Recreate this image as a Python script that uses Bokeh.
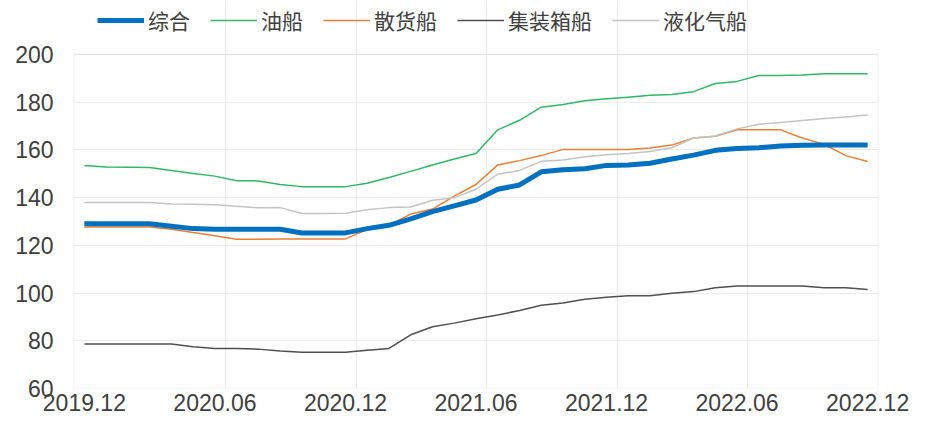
from bokeh.plotting import figure
from bokeh.models import Range1d, FixedTicker, Legend, LegendItem, ColumnDataSource, BoxAnnotation
from bokeh.embed import file_html
from bokeh.resources import INLINE

months = ["2019.12", "2020.01", "2020.02", "2020.03", "2020.04", "2020.05", "2020.06",
          "2020.07", "2020.08", "2020.09", "2020.10", "2020.11", "2020.12",
          "2021.01", "2021.02", "2021.03", "2021.04", "2021.05", "2021.06",
          "2021.07", "2021.08", "2021.09", "2021.10", "2021.11", "2021.12",
          "2022.01", "2022.02", "2022.03", "2022.04", "2022.05", "2022.06",
          "2022.07", "2022.08", "2022.09", "2022.10", "2022.11", "2022.12"]
tick_labels = ["2019.12", "2020.06", "2020.12", "2021.06", "2021.12", "2022.06", "2022.12"]
y_ticks = [60, 80, 100, 120, 140, 160, 180, 200]

composite = [129.0, 129.0, 129.0, 129.0, 128.0, 127.0, 126.7, 126.7, 126.7, 126.7, 125.2, 125.2, 125.2,
             127.0, 128.4, 131.1, 134.1, 136.5, 139.0, 143.5, 145.3, 150.8, 151.7, 152.1, 153.5,
             153.7, 154.4, 156.2, 157.8, 159.8, 160.6, 160.9, 161.6, 161.9, 162.0, 162.0, 162.0]
tanker = [153.5, 152.8, 152.7, 152.6, 151.4, 150.1, 149.0, 147.1, 147.0, 145.5, 144.6, 144.6, 144.6,
          146.0, 148.4, 151.0, 153.7, 156.2, 158.5, 168.4, 172.4, 177.9, 179.0, 180.6, 181.4,
          182.1, 182.9, 183.2, 184.4, 187.8, 188.7, 191.2, 191.2, 191.4, 191.9, 191.9, 191.9]
bulk = [127.7, 127.7, 127.7, 127.7, 126.7, 125.4, 124.0, 122.5, 122.5, 122.6, 122.7, 122.7, 122.7,
        126.7, 128.4, 133.1, 135.2, 140.6, 145.5, 153.7, 155.5, 157.6, 160.2, 160.2, 160.2,
        160.2, 160.8, 162.0, 165.0, 165.7, 168.4, 168.4, 168.4, 165.0, 162.3, 157.6, 155.1]
container = [78.6, 78.6, 78.6, 78.6, 78.6, 77.5, 76.8, 76.8, 76.5, 75.7, 75.2, 75.2, 75.2,
             76.0, 76.8, 82.5, 85.9, 87.4, 89.2, 90.8, 92.7, 94.9, 95.8, 97.4, 98.2,
             98.9, 98.9, 99.9, 100.6, 102.2, 103.0, 103.0, 103.0, 103.0, 102.2, 102.2, 101.5]
lng = [137.9, 137.9, 137.9, 137.9, 137.3, 137.2, 137.0, 136.4, 135.7, 135.8, 133.3, 133.3, 133.4,
       134.9, 135.8, 136.1, 138.9, 139.9, 143.5, 149.8, 151.4, 155.2, 155.8, 157.1, 158.0,
       158.5, 159.3, 160.9, 165.0, 165.8, 168.8, 170.7, 171.5, 172.3, 173.1, 173.8, 174.6]

series_names = ["综合", "油船", "散货船", "集装箱船", "液化气船"]

x = list(range(len(months)))
src = ColumnDataSource(dict(x=x, composite=composite, tanker=tanker, bulk=bulk,
                            container=container, lng=lng))

x0, x1 = -0.5, len(months) - 0.5
y_lo, y_hi = y_ticks[0], y_ticks[-1]
# extra room above the plot area for the legend
y_top = 222.6

p = figure(width=909, height=421, output_backend="svg", toolbar_location=None, title=None,
           x_range=Range1d(x0, x1), y_range=Range1d(y_lo, y_top),
           min_border_left=73, min_border_right=31, min_border_top=0, min_border_bottom=33)

p.outline_line_color = None
p.background_fill_color = "white"
p.border_fill_color = "white"

# axes
tick_idx = [months.index(t) for t in tick_labels]
p.xaxis.ticker = FixedTicker(ticks=tick_idx)
p.xaxis.major_label_overrides = {i: months[i] for i in tick_idx}
p.yaxis.ticker = FixedTicker(ticks=y_ticks)
for ax in (p.xaxis[0], p.yaxis[0]):
    ax.axis_line_color = None
    ax.major_tick_line_color = None
    ax.minor_tick_line_color = None
    ax.major_tick_out = 0
    ax.major_tick_in = 0
    ax.minor_tick_out = 0
    ax.major_label_text_font = "Liberation Sans"
    ax.major_label_text_font_size = "23px"
    ax.major_label_text_color = "#404040"
p.xaxis.major_label_standoff = 5
p.yaxis.major_label_standoff = 20

# grids
p.xgrid.ticker = FixedTicker(ticks=[i + 0.5 for i in tick_idx[1:]])
p.xgrid.bounds = (y_lo, y_hi)
p.xgrid.grid_line_color = "#ececec"
p.ygrid.grid_line_color = "#ececec"

# plot-area border
p.add_layout(BoxAnnotation(left=x0, right=x1, bottom=y_lo, top=y_hi,
                           fill_alpha=0, line_color="#c8c8c8", line_width=1.5))

styles = [("composite", "#0070C0", 5),
          ("tanker", "#2DBA62", 1.5),
          ("bulk", "#ED7D31", 1.5),
          ("container", "#505050", 1.5),
          ("lng", "#C4C4C4", 1.5)]
renderers = []
for col, color, w in styles:
    r = p.line("x", col, source=src, line_color=color, line_width=w, line_join="round")
    renderers.append(r)

# draw composite on top of the others
p.renderers.remove(renderers[0])
p.renderers.append(renderers[0])

items = [LegendItem(label=n, renderers=[r]) for n, r in zip(series_names, renderers)]
legend = Legend(items=items, orientation="horizontal", location=(24, 353),
                glyph_width=47, glyph_height=20, label_standoff=4, spacing=20,
                label_text_font="Noto Sans CJK SC", label_text_font_size="21px",
                label_text_color="#404040", padding=0, margin=0,
                border_line_color=None, background_fill_alpha=0)
p.add_layout(legend, "center")

open("out.html", "w").write(file_html(p, INLINE))
